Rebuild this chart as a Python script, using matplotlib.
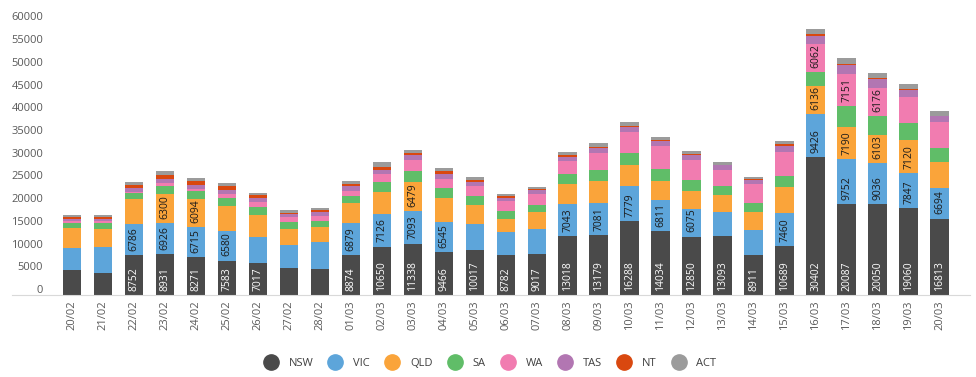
import matplotlib
matplotlib.use("Agg")
import matplotlib.pyplot as plt
import matplotlib.transforms as mtransforms
from matplotlib.lines import Line2D
import numpy as np

plt.rcParams['font.family'] = ['Open Sans', 'DejaVu Sans']

dates = ['20/02', '21/02', '22/02', '23/02', '24/02', '25/02', '26/02', '27/02', '28/02',
         '01/03', '02/03', '03/03', '04/03', '05/03', '06/03', '07/03', '08/03', '09/03',
         '10/03', '11/03', '12/03', '13/03', '14/03', '15/03', '16/03', '17/03', '18/03',
         '19/03', '20/03']

nsw = [5500, 4840, 8752, 8931, 8271, 7583, 7017, 5950, 5730, 8874, 10650, 11338, 9466, 10017,
       8782, 9017, 13018, 13179, 16288, 14034, 12850, 13093, 8911, 10689, 30402, 20087, 20050,
       19060, 16813]
vic = [4850, 5700, 6786, 6926, 6715, 6580, 5750, 5065, 5900, 6879, 7126, 7093, 6545, 5600,
       5090, 5500, 7043, 7081, 7779, 6811, 6075, 5200, 5400, 7460, 9426, 9752, 9036, 7847, 6694]
qld = [4400, 3950, 5600, 6300, 6094, 5400, 4850, 3520, 3300, 4500, 4900, 6479, 5350, 4180,
       2860, 3740, 4380, 4840, 4560, 4260, 3980, 3740, 3960, 5630, 6136, 7190, 6103, 7120, 5780]
sa = [1100, 1320, 1250, 1850, 1820, 1760, 1760, 1540, 1320, 1540, 2200, 2400, 2200, 1980,
      1760, 1540, 2200, 2420, 2640, 2640, 2420, 1980, 1980, 2420, 3140, 4590, 4230, 3850, 3080]
wa = [500, 500, 300, 660, 440, 880, 1100, 1100, 1100, 1100, 1760, 2420, 1980, 2200, 2200,
      2420, 2860, 3740, 4620, 5060, 4400, 3520, 4180, 5280, 6062, 7151, 6176, 5730, 5730]
tas = [350, 350, 880, 880, 880, 880, 880, 660, 880, 1100, 880, 1100, 1100, 880, 660, 880,
       880, 1100, 1100, 1100, 1100, 1100, 880, 1320, 1800, 1950, 1900, 1540, 1320]
nt = [440, 440, 660, 880, 880, 880, 660, 220, 440, 440, 660, 440, 660, 440, 440, 220, 440,
      220, 220, 220, 220, 100, 220, 440, 440, 220, 220, 220, 60]
act = [440, 440, 660, 800, 660, 660, 440, 660, 440, 660, 1100, 660, 660, 660, 440, 440, 660,
       880, 880, 660, 660, 560, 440, 660, 1100, 1320, 1100, 1100, 1100]

states = ['NSW', 'VIC', 'QLD', 'SA', 'WA', 'TAS', 'NT', 'ACT']
series = [nsw, vic, qld, sa, wa, tas, nt, act]
colors = ['#4a4a4a', '#5da5da', '#faa43a', '#60bd68', '#f17cb0', '#b276b2', '#d9480f', '#9b9b9b']

fig = plt.figure(figsize=(9.76, 3.77), dpi=100)
ax = fig.add_axes([12 / 976, 82 / 377, 958 / 976, 272.5 / 377])

x = np.arange(len(dates))
bottom = np.zeros(len(dates))
for name, vals, col in zip(states, series, colors):
    vals = np.array(vals, dtype=float)
    bars = ax.bar(x, vals, 0.61, bottom=bottom, color=col, label=name, linewidth=0)
    for rect, v in zip(bars, vals):
        if v >= 6000:
            ax.annotate(str(int(v)), (rect.get_x() + rect.get_width() / 2, rect.get_y()),
                        xytext=(0, 3), textcoords='offset points', rotation=90,
                        ha='center', va='bottom', fontsize=7.5,
                        color='white' if name == 'NSW' else '#1a1a1a')
    bottom += vals

ax.set_xlim(-1.935, 28.97)
ax.set_ylim(0, 60000)
ax.set_yticks(range(0, 60001, 5000))
ax.set_xticks(x)
ax.set_xticklabels(dates, rotation=90)
ax.tick_params(axis='both', length=0, labelsize=8, labelcolor='#595959')
ax.tick_params(axis='x', pad=4)
ax.tick_params(axis='y', pad=-22.5)
offset = mtransforms.ScaledTranslation(0, 6 / 100, fig.dpi_scale_trans)
for lab in ax.get_yticklabels():
    lab.set_transform(lab.get_transform() + offset)

for s in ['top', 'right', 'left']:
    ax.spines[s].set_visible(False)
ax.spines['bottom'].set_color('#d9d9d9')

handles = [Line2D([], [], marker='o', linestyle='', markersize=11, color=c) for c in colors]
fig.legend(handles, states, loc='center', bbox_to_anchor=(0.5, 1 - 363 / 377), ncol=8,
           frameon=False, fontsize=8, labelcolor='#404040', handletextpad=0.6,
           columnspacing=1.0)

fig.savefig('out.png', dpi=100)
